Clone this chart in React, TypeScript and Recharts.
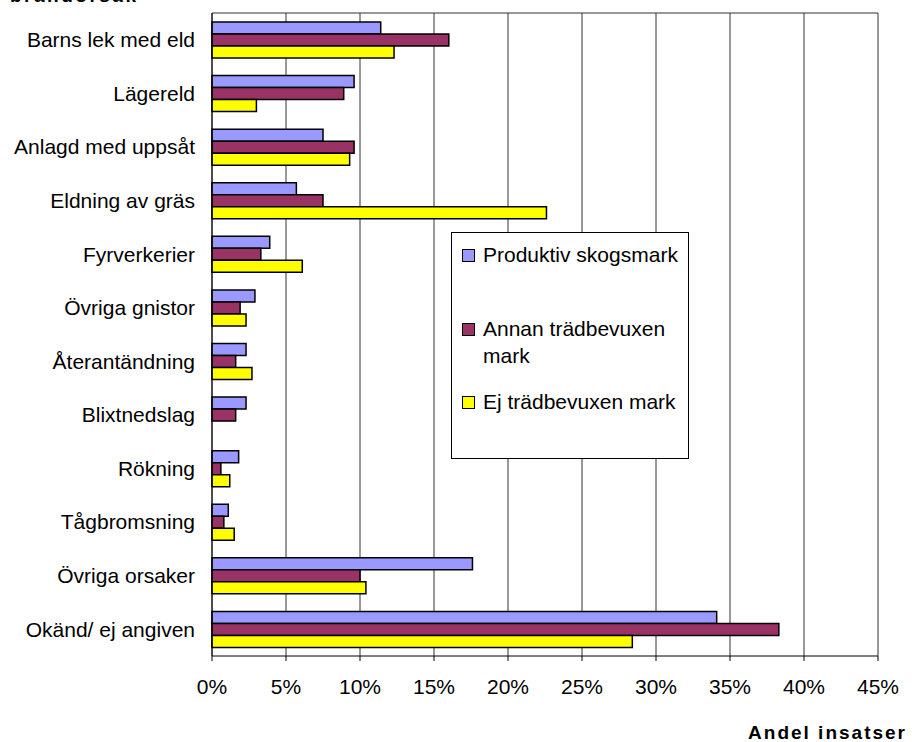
import React from "react";
import { BarChart, Bar, XAxis, YAxis, CartesianGrid, Legend } from "recharts";

const FONT = "Arial, 'Liberation Sans', sans-serif";

const categories = [
  "Barns lek med eld",
  "Lägereld",
  "Anlagd med uppsåt",
  "Eldning av gräs",
  "Fyrverkerier",
  "Övriga gnistor",
  "Återantändning",
  "Blixtnedslag",
  "Rökning",
  "Tågbromsning",
  "Övriga orsaker",
  "Okänd/ ej angiven",
];

// andel insatser i procent
const produktiv = [11.4, 9.6, 7.5, 5.7, 3.9, 2.9, 2.3, 2.3, 1.8, 1.1, 17.6, 34.1];
const annan = [16.0, 8.9, 9.6, 7.5, 3.3, 1.9, 1.6, 1.6, 0.6, 0.8, 10.0, 38.3];
const ej: (number | null)[] = [12.3, 3.0, 9.3, 22.6, 6.1, 2.3, 2.7, null, 1.2, 1.5, 10.4, 28.4];

const xTicks = [0, 5, 10, 15, 20, 25, 30, 35, 40, 45];
const boundaryTicks = [0, 1, 2, 3, 4, 5, 6, 7, 8, 9, 10, 11, 12];

const SERIES = [
  { key: "produktiv", label: "Produktiv skogsmark", color: "#9999FF" },
  { key: "annan", label: "Annan trädbevuxen mark", color: "#993366" },
  { key: "ej", label: "Ej trädbevuxen mark", color: "#FFFF00" },
];

const data = categories.map((c, i) => ({
  name: c,
  produktiv: produktiv[i],
  annan: annan[i],
  ej: ej[i],
}));

const rowMargins = [8, 47, 19];

function LegendBox() {
  return (
    <div
      style={{
        width: 238,
        height: 227,
        boxSizing: "border-box",
        border: "1px solid #000",
        background: "#fff",
        fontFamily: FONT,
        fontSize: 21,
        lineHeight: "27px",
        color: "#000",
        textAlign: "left",
      }}
    >
      {SERIES.map((s, i) => (
        <div key={s.key} style={{ display: "flex", alignItems: "flex-start", marginTop: rowMargins[i] }}>
          <span
            style={{
              display: "inline-block",
              width: 11,
              height: 11,
              marginLeft: 10,
              marginTop: 8,
              marginRight: 8,
              background: s.color,
              border: "1px solid #000",
              flexShrink: 0,
            }}
          />
          <span style={{ width: 204 }}>{s.label}</span>
        </div>
      ))}
    </div>
  );
}

export default function App() {
  return (
    <div style={{ position: "absolute", left: 0, top: 0, width: 912, height: 742, background: "#fff", overflow: "hidden" }}>
      <div
        style={{
          position: "absolute",
          left: 10,
          top: -14,
          fontFamily: FONT,
          fontSize: 19,
          fontWeight: "bold",
          lineHeight: "20px",
          letterSpacing: 2.5,
          color: "#000",
        }}
      >
        brandorsak
      </div>
      <BarChart
        width={912}
        height={742}
        data={data}
        layout="vertical"
        margin={{ top: 13, right: 34, bottom: 46, left: 0 }}
        barGap={0}
        barSize={12}
      >
        <CartesianGrid
          horizontal={true}
          vertical={true}
          stroke="#333"
          horizontalCoordinatesGenerator={({ offset }: any) => [offset.top]}
        />
        <XAxis
          type="number"
          domain={[0, 45]}
          ticks={xTicks}
          tickFormatter={(v: number) => `${v}%`}
          tick={{ fill: "#000", fontSize: 21, fontFamily: FONT }}
          tickSize={5}
          tickMargin={18}
          height={40}
          stroke="#000"
          interval={0}
        />
        <YAxis
          yAxisId="bounds"
          type="number"
          domain={[0, 12]}
          ticks={boundaryTicks}
          tick={false}
          axisLine={false}
          tickSize={5}
          width={0}
          stroke="#000"
        />
        <YAxis
          type="category"
          dataKey="name"
          width={212}
          interval={0}
          tickLine={false}
          tickSize={0}
          tickMargin={17}
          tick={{ fill: "#000", fontSize: 21, fontFamily: FONT }}
          stroke="#000"
        />
        <Legend
          layout="vertical"
          align="center"
          verticalAlign="middle"
          content={() => <LegendBox />}
          wrapperStyle={{ position: "absolute", left: 451, top: 232, width: 238, height: 227 }}
        />
        {SERIES.map((s) => (
          <Bar
            key={s.key}
            dataKey={s.key}
            name={s.label}
            fill={s.color}
            stroke="#000"
            strokeWidth={1.5}
            isAnimationActive={false}
          />
        ))}
      </BarChart>
      <div
        style={{
          position: "absolute",
          right: 5,
          top: 722,
          fontFamily: FONT,
          fontSize: 19,
          fontWeight: "bold",
          lineHeight: "22px",
          letterSpacing: 2,
          color: "#000",
        }}
      >
        Andel insatser
      </div>
    </div>
  );
}
